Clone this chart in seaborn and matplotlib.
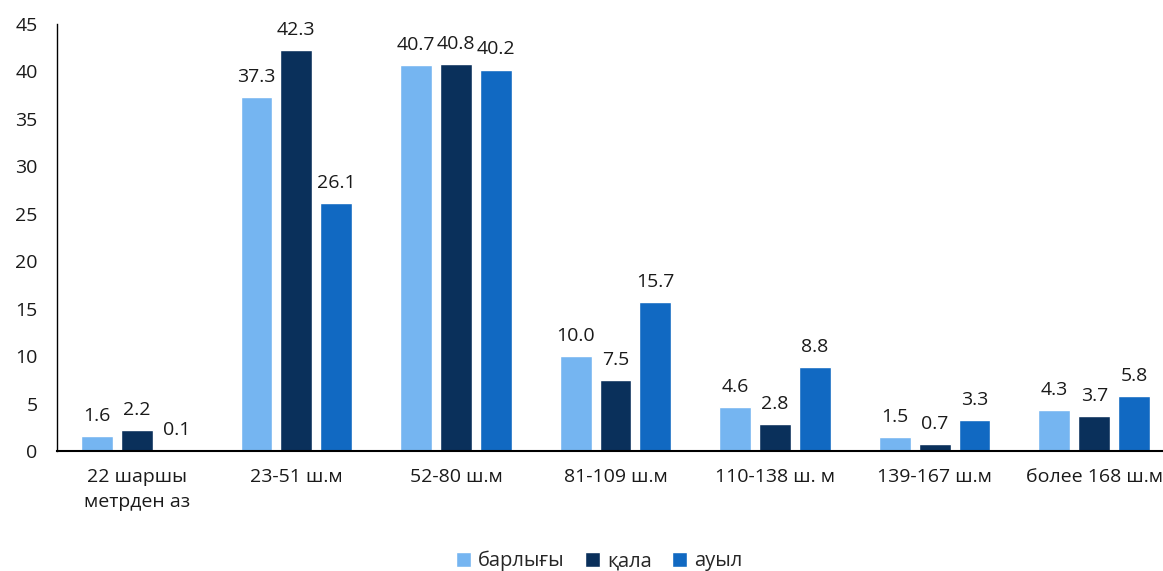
import matplotlib
matplotlib.use("Agg")
import matplotlib.pyplot as plt
import seaborn as sns
import pandas as pd

categories = ["22 шаршы\nметрден аз", "23-51 ш.м", "52-80 ш.м", "81-109 ш.м",
              "110-138 ш. м", "139-167 ш.м", "более 168 ш.м"]
series_names = ["барлығы", "қала", "ауыл"]
total = [1.6, 37.3, 40.7, 10.0, 4.6, 1.5, 4.3]
city = [2.2, 42.3, 40.8, 7.5, 2.8, 0.7, 3.7]
rural = [0.1, 26.1, 40.2, 15.7, 8.8, 3.3, 5.8]
y_ticks = [0, 5, 10, 15, 20, 25, 30, 35, 40, 45]

colors = ["#75b5f1", "#0a305b", "#1169c2"]

df = pd.DataFrame({
    "category": categories * 3,
    "series": [series_names[0]] * 7 + [series_names[1]] * 7 + [series_names[2]] * 7,
    "value": total + city + rural,
})

sns.set_style("white")
plt.rcParams["font.family"] = ["Open Sans", "DejaVu Sans"]

FS = 14
W, H = 1163, 571
fig = plt.figure(figsize=(W / 100, H / 100), dpi=100)
ax = fig.add_axes([57 / W, 1 - 451 / H, (1174 - 57) / W, (451 - 24) / H])

sns.barplot(data=df, x="category", y="value", hue="series", order=categories,
            hue_order=series_names, palette=colors, width=0.75, gap=0.2,
            saturation=1, ax=ax, legend=True)

for cont in ax.containers:
    ax.bar_label(cont, labels=[f"{v:.1f}" for v in cont.datavalues],
                 padding=8, fontsize=FS, color="#1a1a1a")

ax.set_ylim(0, 45)
ax.set_xlim(-0.5, 6.5)
ax.set_yticks(y_ticks)
ax.tick_params(axis="both", length=0, labelsize=FS, colors="#1a1a1a")
ax.tick_params(axis="x", pad=12)
ax.tick_params(axis="y", pad=14)
for lbl in ax.get_xticklabels():
    lbl.set_linespacing(1.55)
ax.set_xlabel("")
ax.set_ylabel("")
for s in ["top", "right"]:
    ax.spines[s].set_visible(False)
ax.spines["left"].set_color("black")
ax.spines["bottom"].set_color("black")
ax.spines["left"].set_linewidth(1.0)
ax.spines["bottom"].set_linewidth(1.5)

handles, labels = ax.get_legend_handles_labels()
ax.legend_.remove()
fig.legend(handles, labels, loc="center", bbox_to_anchor=(0.515, 1 - 561 / H),
           ncol=3, frameon=False, fontsize=FS + 0.5, handlelength=0.75,
           handleheight=0.75, handletextpad=0.35, columnspacing=1.0)

fig.savefig("out.png", dpi=100)
